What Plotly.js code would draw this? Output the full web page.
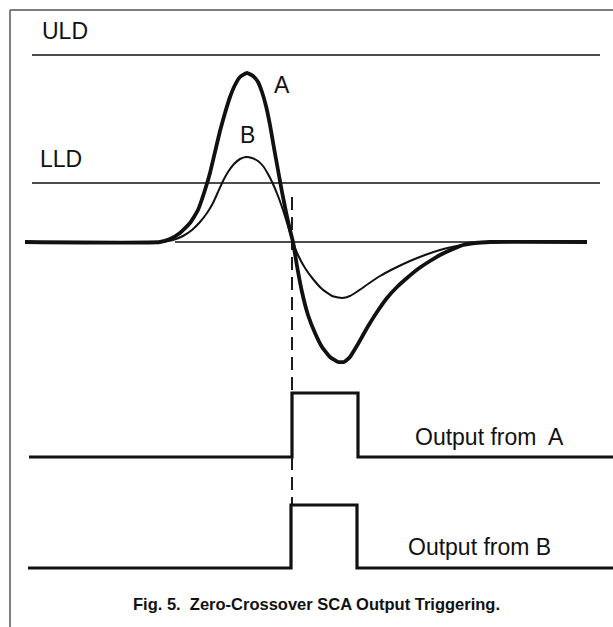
<!DOCTYPE html>
<html>
<head>
<meta charset="utf-8">
<script src="https://cdn.plot.ly/plotly-3.0.1.min.js"></script>
<style>
  html, body { margin: 0; padding: 0; background: #ffffff; }
  #chart { width: 613px; height: 627px; }
</style>
</head>
<body>
<div id="chart"></div>
<script>
// Time axis (arbitrary units) and signal amplitudes (baseline = 0, positive up)
const timeA = [25, 160, 170, 180, 190, 198, 205, 210, 215, 220, 225, 230, 235, 240, 247, 253, 258, 262, 266, 270, 274, 278, 282, 286, 290, 293,
               297, 302, 308, 315, 322, 330, 338, 344, 350, 358, 367, 377, 387, 397, 407, 418, 430, 442, 453, 463, 475, 490, 587];
const ampA  = [0, 0, 3, 9, 19, 32, 52, 69, 90, 111, 129, 145, 157, 165, 169, 166, 160, 150, 136, 117, 94, 72, 50, 30, 12, 0,
               -24, -50, -73, -91, -105, -115, -120, -120, -115, -102, -86, -70, -56, -45, -36, -27, -19, -12, -7, -3, -1, 0, 0];

const timeB = [163, 173, 183, 192, 200, 207, 213, 218, 223, 228, 234, 240, 246, 252, 258, 263, 268, 273, 278, 283, 288, 293,
               298, 305, 313, 322, 332, 342, 350, 358, 368, 380, 395, 410, 425, 440, 452, 462, 473];
const ampB  = [0, 2, 6, 12, 20, 29, 39, 50, 61, 70, 78, 83, 85, 84, 81, 76, 68, 58, 46, 32, 16, 0,
               -13, -26, -37, -47, -54, -56, -54, -49, -42, -34, -26, -19, -13, -8, -5, -3, -1];

const baselineT = [175, 478];
const baselineV = [0, 0];

const thresholdT = [32, 600];
const uldLevel = 187;
const lldLevel = 59;

// SCA logic outputs
const outT_A = [29, 292, 292, 358, 358, 613];
const outV_A = [-215, -215, -151, -151, -215, -215];
const outT_B = [28, 291, 291, 357, 357, 613];
const outV_B = [-326, -326, -263, -263, -326, -326];

// Zero-crossover marker
const crossT = [292, 292];
const crossV = [45, -263];

const FONT = "Liberation Sans, Arial, Helvetica, sans-serif";

const traces = [
  {x: thresholdT, y: [uldLevel, uldLevel], mode: 'lines', line: {color: '#111', width: 1.6}, hoverinfo: 'skip'},
  {x: thresholdT, y: [lldLevel, lldLevel], mode: 'lines', line: {color: '#111', width: 1.6}, hoverinfo: 'skip'},
  {x: baselineT, y: baselineV, mode: 'lines', line: {color: '#111', width: 1.4}, hoverinfo: 'skip'},
  {x: crossT, y: crossV, mode: 'lines', line: {color: '#111', width: 1.9, dash: '13px,7px'}, hoverinfo: 'skip'},
  {x: timeB, y: ampB, mode: 'lines', line: {color: '#111', width: 2, shape: 'spline', smoothing: 0.4}, hoverinfo: 'skip'},
  {x: timeA, y: ampA, mode: 'lines', line: {color: '#111', width: 3.8, shape: 'spline', smoothing: 0.4}, hoverinfo: 'skip'},
  {x: outT_A, y: outV_A, mode: 'lines', line: {color: '#111', width: 3.2}, hoverinfo: 'skip'},
  {x: outT_B, y: outV_B, mode: 'lines', line: {color: '#111', width: 3.2}, hoverinfo: 'skip'}
];

const ann = (x, y, text, size, xanchor, bold) => ({
  x: x, y: y, xref: 'x', yref: 'y', text: bold ? '<b>' + text + '</b>' : text,
  showarrow: false, xanchor: xanchor || 'center', yanchor: 'middle',
  font: {family: FONT, size: size, color: '#111'}
});

const layout = {
  width: 613, height: 627,
  margin: {l: 0, r: 0, t: 0, b: 0, pad: 0},
  paper_bgcolor: '#ffffff', plot_bgcolor: '#ffffff',
  showlegend: false,
  xaxis: {range: [0, 613], visible: false, fixedrange: true},
  yaxis: {range: [-385, 242], visible: false, fixedrange: true},
  shapes: [
    {type: 'line', xref: 'paper', yref: 'paper', x0: 10/613, x1: 10/613, y0: 0, y1: 1 - 10/627, line: {color: '#555', width: 1.5}},
    {type: 'line', xref: 'paper', yref: 'paper', x0: 10/613, x1: 1, y0: 1 - 10/627, y1: 1 - 10/627, line: {color: '#555', width: 1.5}}
  ],
  annotations: [
    ann(40, 211, 'ULD', 23, 'left'),
    ann(38, 83, 'LLD', 23, 'left'),
    ann(282, 157, 'A', 23),
    ann(247, 107, 'B', 23),
    ann(413, -195, 'Output from  A', 23, 'left'),
    ann(406, -305, 'Output from B', 23, 'left'),
    ann(316, -362, 'Fig. 5.  Zero-Crossover SCA Output Triggering.', 16.5, 'center', true)
  ]
};

Plotly.newPlot('chart', traces, layout, {staticPlot: true, displayModeBar: false});
</script>
</body>
</html>
